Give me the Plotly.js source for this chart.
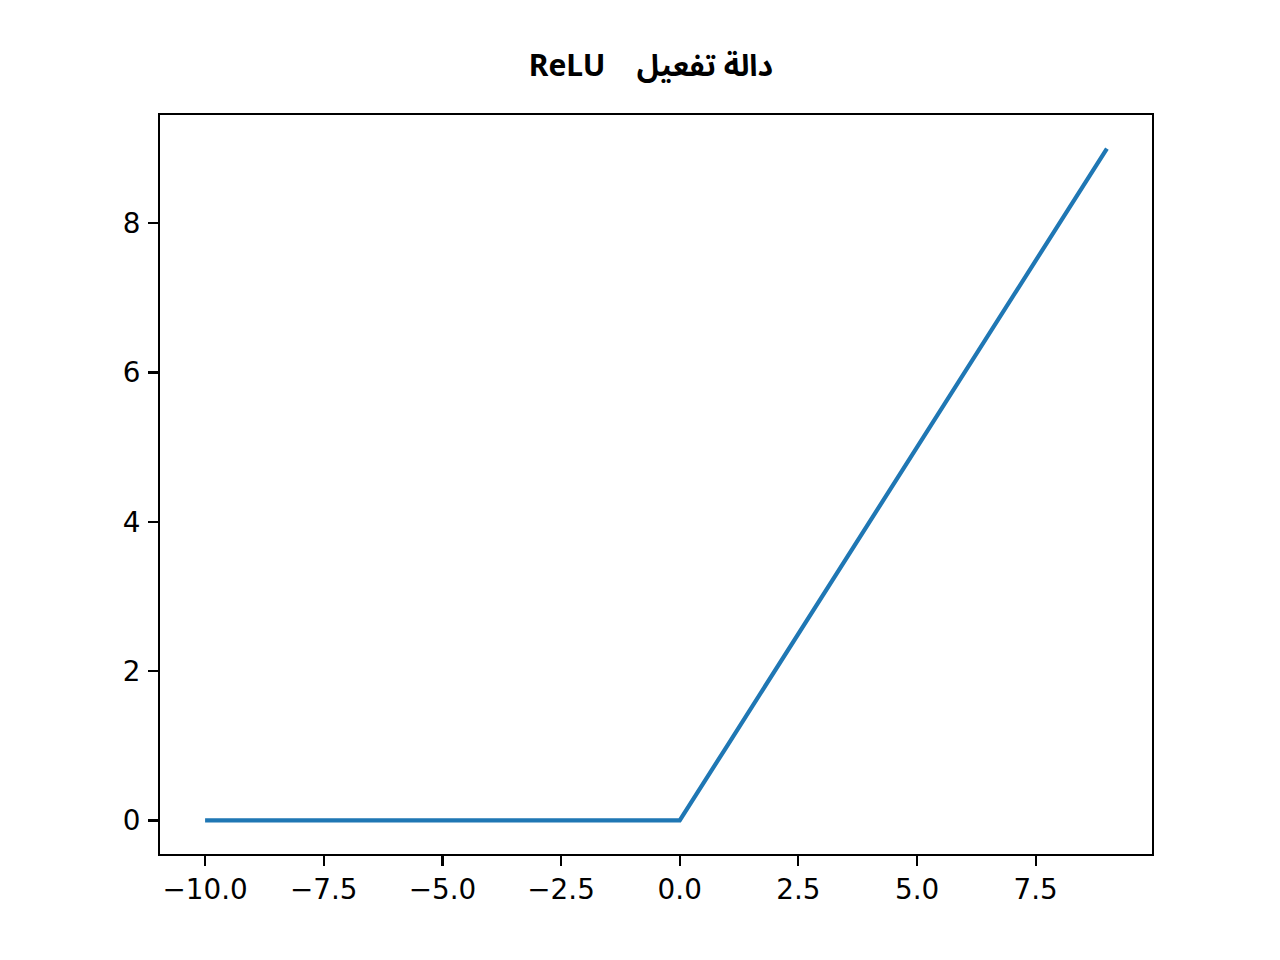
<!DOCTYPE html>
<html>
<head>
<meta charset="utf-8">
<script src="https://cdn.plot.ly/plotly-3.0.1.min.js"></script>
<style>html,body{margin:0;padding:0;background:#fff;}#chart{width:1280px;height:960px;}</style>
</head>
<body>
<div id="chart"></div>
<script>
const xValues = [-10,-9,-8,-7,-6,-5,-4,-3,-2,-1,0,1,2,3,4,5,6,7,8,9];
const yValues = [0,0,0,0,0,0,0,0,0,0,0,1,2,3,4,5,6,7,8,9];
const xTicks = [-10,-7.5,-5,-2.5,0,2.5,5,7.5];
const yTicks = [0,2,4,6,8];
const titleText = "<b>ReLU\u00a0\u00a0\u00a0\u00a0دالة تفعيل</b>";

const trace = {
  x: xValues, y: yValues, type: 'scatter', mode: 'lines',
  line: {color: '#1f77b4', width: 4.2}, hoverinfo: 'skip'
};
const axisCommon = {
  showgrid: false, zeroline: false, showline: true, mirror: true,
  linecolor: '#000', linewidth: 2.2, ticks: 'outside', ticklen: 9.7,
  tickwidth: 2.2, tickcolor: '#000',
  tickfont: {family: 'DejaVu Sans', size: 27.8, color: '#000'}
};
const layout = {
  width: 1280, height: 960,
  paper_bgcolor: '#fff', plot_bgcolor: '#fff',
  margin: {l: 160, r: 128, t: 115, b: 106},
  showlegend: false,
  title: {text: titleText, x: 0.5085, xanchor: 'center', y: 0.932, yanchor: 'middle',
    font: {family: '"Noto Sans", "Noto Sans Arabic", "Noto Naskh Arabic", "Open Sans", "DejaVu Sans"', size: 30, color: '#000'}},
  xaxis: Object.assign({}, axisCommon, {range: [-10.95, 9.95], tickvals: xTicks, tickformat: '.1f', ticklabelstandoff: 0}),
  yaxis: Object.assign({}, axisCommon, {range: [-0.45, 9.45], tickvals: yTicks, tickformat: 'd', ticklabelstandoff: 2})
};
Plotly.newPlot('chart', [trace], layout, {displayModeBar: false, staticPlot: true});
</script>
</body>
</html>
